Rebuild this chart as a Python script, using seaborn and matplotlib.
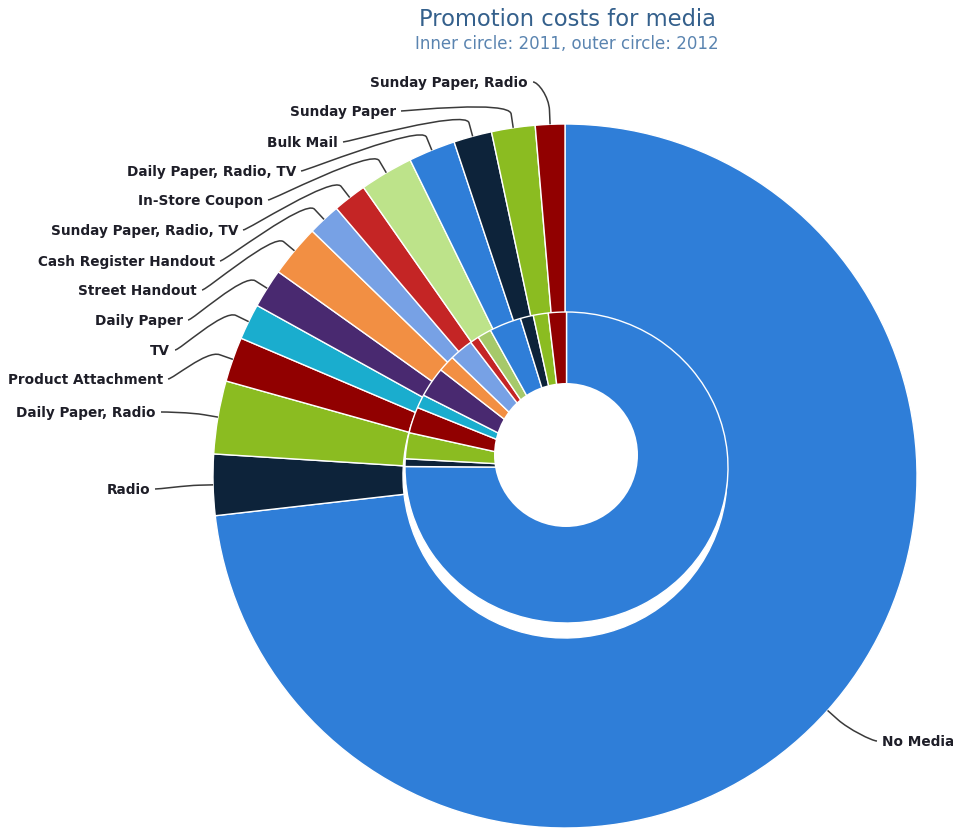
import numpy as np
import matplotlib
matplotlib.use("Agg")
import matplotlib.pyplot as plt
import seaborn as sns
from matplotlib.patches import Ellipse, PathPatch
from matplotlib.path import Path

# ---------------- data ----------------
categories = [
    "No Media", "Radio", "Daily Paper, Radio", "Product Attachment", "TV",
    "Daily Paper", "Street Handout", "Cash Register Handout",
    "Sunday Paper, Radio, TV", "In-Store Coupon", "Daily Paper, Radio, TV",
    "Bulk Mail", "Sunday Paper", "Sunday Paper, Radio",
]
values_2012 = [73.2, 2.8, 3.35, 2.05, 1.65, 1.8, 2.4, 1.5, 1.55, 2.45, 2.15, 1.75, 2.0, 1.35]
values_2011 = [75.1, 0.8, 2.7, 2.7, 1.4, 3.1, 1.7, 2.4, 0.9, 1.4, 3.2, 1.3, 1.5, 1.8]
base_colors = ["#2f7ed8", "#0d233a", "#8bbc21", "#910000", "#1aadce",
               "#492970", "#f28f43", "#77a1e5", "#c42525", "#a6c96a"]
title = "Promotion costs for media"
subtitle = "Inner circle: 2011, outer circle: 2012"

# ---------------- layout (pixels) ----------------
W, H = 954, 829
CX, CY, R_OUT, R_OUT_IN = 565, 477, 352, 162
INNER_BOX = (566.5, 468.5, 161.5, 155.5)   # centre x, centre y, semi-axis x, semi-axis y
HOLE = (566, 456, 72)
label_anchor = {
    "Radio": (150, 490), "Daily Paper, Radio": (156, 413),
    "Product Attachment": (163, 380), "TV": (170, 351),
    "Daily Paper": (183, 321), "Street Handout": (197, 291),
    "Cash Register Handout": (215, 262), "Sunday Paper, Radio, TV": (238, 231),
    "In-Store Coupon": (263, 201), "Daily Paper, Radio, TV": (296, 172),
    "Bulk Mail": (338, 143), "Sunday Paper": (396, 112),
    "Sunday Paper, Radio": (528, 83), "No Media": (882, 742),
}

sns.set_theme(style="white")
plt.rcParams["font.family"] = ["DejaVu Sans"]

fig = plt.figure(figsize=(W / 100, H / 100), dpi=100)
ax = fig.add_axes([0, 0, 1, 1])

palette = sns.color_palette(base_colors)
outer_colors = [palette[i % 10] for i in range(len(categories))]
outer_colors[9] = "#bde38a"
inner_colors = [palette[i % 10] for i in range(len(categories))]

wedges, _ = ax.pie(values_2012, colors=outer_colors, startangle=-90, counterclock=True,
                   radius=R_OUT, center=(CX, CY),
                   wedgeprops=dict(width=R_OUT - R_OUT_IN, edgecolor="white", linewidth=1))
ax.set_aspect("auto")
ax.set_xlim(0, W)
ax.set_ylim(H, 0)
ax.axis("off")

# labels + connectors
OFF = 14
for w, name in zip(wedges, categories):
    m = np.deg2rad((w.theta1 + w.theta2) / 2)
    ux, uy = np.cos(m), np.sin(m)
    E = (CX + R_OUT * ux, CY + R_OUT * uy)
    B = (CX + (R_OUT + OFF) * ux, CY + (R_OUT + OFF) * uy)
    C2 = (CX + (R_OUT + 2 * OFF) * ux, CY + (R_OUT + 2 * OFF) * uy)
    tx, ty = label_anchor[name]
    if ux < 0:
        ha = "right"
        P0 = (tx + 5, ty)
        C1 = (tx + 10, ty)
    else:
        ha = "left"
        P0 = (tx - 5, ty)
        C1 = (tx - 10, ty)
    path = Path([P0, C1, C2, B, E],
                [Path.MOVETO, Path.CURVE4, Path.CURVE4, Path.CURVE4, Path.LINETO])
    ax.add_patch(PathPatch(path, facecolor="none", edgecolor="#3a3a3a", lw=1.1))
    ax.text(tx, ty, name, ha=ha, va="center", fontsize=9.8, fontweight="bold",
            color="#1e1e28")

# inner ring (2011)
icx, icy, ia, ib = INNER_BOX
ax2 = fig.add_axes([(icx - ia) / W, 1 - (icy + ib) / H, 2 * ia / W, 2 * ib / H])
ax2.pie(values_2011, colors=inner_colors, startangle=90, counterclock=False, radius=1,
        wedgeprops=dict(edgecolor="white", linewidth=1))
ax2.set_aspect("auto")
ax2.set_xlim(-1, 1)
ax2.set_ylim(-1, 1)
ax2.axis("off")
ax2.patch.set_visible(False)
hx, hy, hr = HOLE
ax2.add_patch(Ellipse(((hx - icx) / ia, (icy - hy) / ib), 2 * hr / ia, 2 * hr / ib,
                      facecolor="white", edgecolor="none", zorder=5))

fig.text(567 / W, 1 - 20 / H, title, ha="center", va="center", fontsize=16.3, color="#34608c")
fig.text(567 / W, 1 - 44 / H, subtitle, ha="center", va="center", fontsize=12, color="#5a84b0")

fig.savefig("out.png", dpi=100)
